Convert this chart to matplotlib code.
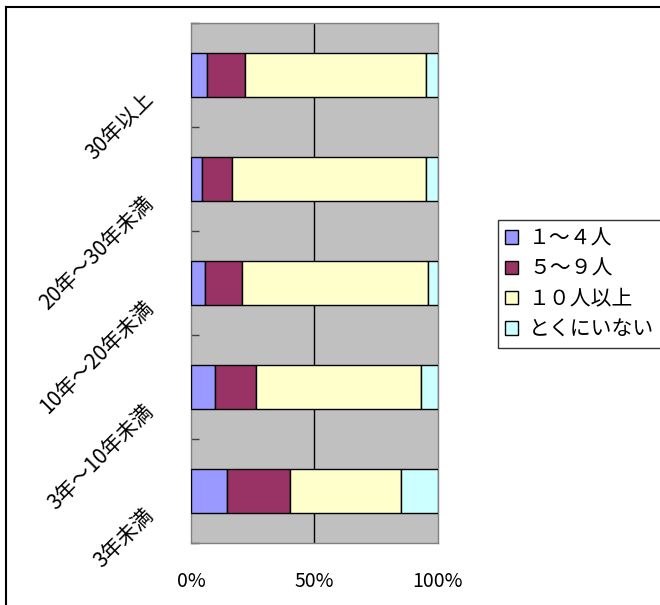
import matplotlib
matplotlib.use("Agg")
import matplotlib.pyplot as plt
import matplotlib.transforms as mtransforms
from matplotlib.patches import Patch
from matplotlib.lines import Line2D
import numpy as np

plt.rcParams['font.family'] = ['Noto Sans CJK JP', 'DejaVu Sans']

# Years of experience (bottom to top)
categories = ["3年未満", "3年～10年未満", "10年～20年未満", "20年～30年未満", "30年以上"]
series_names = ["１～４人", "５～９人", "１０人以上", "とくにいない"]
# Shares (%) for each series, same order as categories
s_1_4 = [14.6, 9.9, 5.7, 4.3, 6.5]
s_5_9 = [25.5, 16.6, 15.0, 12.4, 15.4]
s_10_plus = [45.1, 66.8, 75.1, 78.4, 73.2]
s_none = [14.8, 6.7, 4.2, 4.9, 4.9]
x_ticks = [0, 50, 100]
x_tick_labels = ["0%", "50%", "100%"]

series = [s_1_4, s_5_9, s_10_plus, s_none]
colors = ["#9999FF", "#993366", "#FFFFCC", "#CCFFFF"]

W, H, DPI = 660, 605, 100
fig = plt.figure(figsize=(W / DPI, H / DPI), dpi=DPI)

ax = fig.add_axes([191 / W, 1 - 543.3 / H, (438 - 191) / W, (543.3 - 22.7) / H])
ax.set_facecolor("#C0C0C0")

y = np.arange(len(categories))
left = np.zeros(len(categories))
for vals, col in zip(series, colors):
    ax.barh(y, vals, left=left, height=0.42, color=col, edgecolor="black",
            linewidth=1.0, zorder=3)
    left += np.array(vals)

ax.set_xlim(0, 100)
ax.set_ylim(-0.5, len(categories) - 0.5)

# vertical gridline at 50%
ax.axvline(50, color="black", linewidth=1.0, zorder=1)

for s in ax.spines.values():
    s.set_color("#808080")
    s.set_linewidth(1.0)

ax.set_xticks(x_ticks)
ax.set_xticklabels(x_tick_labels, fontsize=14)
ax.tick_params(axis="x", length=0, pad=20)

# category boundary ticks, labels at category centres
ax.set_yticks(np.arange(len(categories) + 1) - 0.5)
ax.set_yticklabels([])
ax.tick_params(axis="y", which="major", direction="in", length=6, width=1,
               color="#404040")
ax.set_yticks(y, minor=True)
ax.set_yticklabels(categories, minor=True, fontsize=15, rotation=45,
                   ha="right", va="top")
ax.tick_params(axis="y", which="minor", length=0, pad=24)
shift = mtransforms.ScaledTranslation(0, -13 / DPI, fig.dpi_scale_trans)
for lbl in ax.get_yticklabels(minor=True):
    lbl.set_transform(lbl.get_transform() + shift)

handles = [Patch(facecolor=c, edgecolor="black", linewidth=1.0) for c in colors]
leg = fig.legend(handles, series_names, loc="upper left",
                 bbox_to_anchor=(498 / W, 1 - 220 / H), fontsize=15,
                 frameon=True, fancybox=False, edgecolor="black",
                 handlelength=0.6, handleheight=0.6, handletextpad=0.55,
                 labelspacing=0.4, borderpad=0.35, borderaxespad=0)
leg.get_frame().set_linewidth(1.0)

# outer chart frame
fig.add_artist(Line2D([6 / W, 6 / W], [0, 1 - 7 / H], color="black",
                      linewidth=1.5, transform=fig.transFigure))
fig.add_artist(Line2D([6 / W, 1], [1 - 7 / H, 1 - 7 / H], color="black",
                      linewidth=1.5, transform=fig.transFigure))

fig.savefig("out.png", dpi=DPI)
